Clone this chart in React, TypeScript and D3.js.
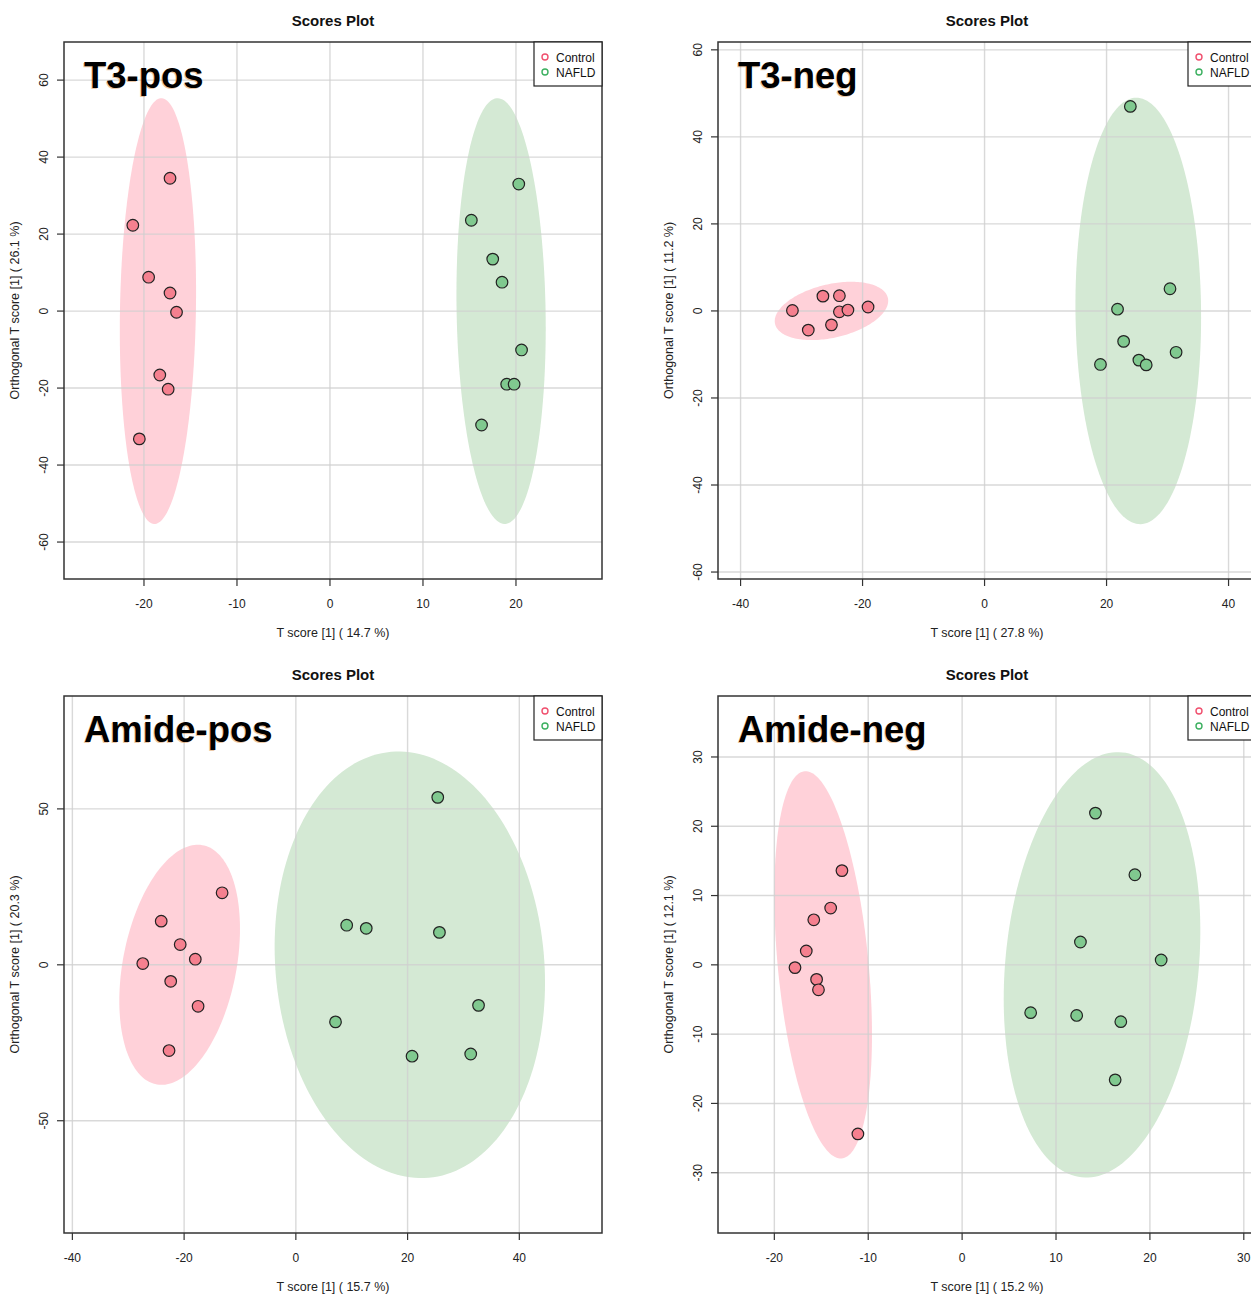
import * as d3 from "d3";

// ---- data ----
type Pt = [number, number];
type Ell = { cx: number; cy: number; sx: number; sy: number; rho: number };

const groups = ["Control", "NAFLD"];

const t3posControl: Pt[] = [
  [-17.2, 34.5], [-21.2, 22.3], [-19.5, 8.8], [-17.2, 4.7],
  [-16.5, -0.3], [-18.3, -16.6], [-17.4, -20.3], [-20.5, -33.2],
];
const t3posNafld: Pt[] = [
  [20.3, 33.0], [15.2, 23.6], [17.5, 13.5], [18.5, 7.5],
  [20.6, -10.1], [19.0, -19.0], [19.8, -19.0], [16.3, -29.6],
];
const t3posEllipses: Ell[] = [
  { cx: -18.5, cy: 0, sx: 4.1, sy: 55.3, rho: 0.09 },
  { cx: 18.4, cy: 0, sx: 4.8, sy: 55.3, rho: -0.08 },
];

const t3negControl: Pt[] = [
  [-31.5, 0.1], [-26.5, 3.4], [-23.8, 3.5], [-23.8, -0.2],
  [-22.4, 0.2], [-19.1, 0.9], [-28.9, -4.4], [-25.1, -3.2],
];
const t3negNafld: Pt[] = [
  [23.9, 47.0], [30.4, 5.1], [21.8, 0.4], [22.8, -7.0],
  [31.4, -9.5], [25.3, -11.3], [26.5, -12.4], [19.0, -12.3],
];
const t3negEllipses: Ell[] = [
  { cx: -25.1, cy: 0, sx: 9.3, sy: 6.7, rho: 0.35 },
  { cx: 25.2, cy: 0, sx: 10.3, sy: 49.0, rho: -0.03 },
];

const amideposControl: Pt[] = [
  [-13.2, 23.1], [-24.1, 14.0], [-20.7, 6.5], [-18.0, 1.8],
  [-27.4, 0.4], [-22.4, -5.3], [-17.5, -13.3], [-22.7, -27.5],
];
const amideposNafld: Pt[] = [
  [25.4, 53.7], [9.1, 12.7], [12.6, 11.7], [25.7, 10.4],
  [32.7, -13.0], [7.1, -18.3], [20.8, -29.3], [31.3, -28.6],
];
const amideposEllipses: Ell[] = [
  { cx: -20.8, cy: 0, sx: 10.8, sy: 38.5, rho: 0.3 },
  { cx: 20.4, cy: 0, sx: 24.2, sy: 68.4, rho: -0.084 },
];

const amidenegControl: Pt[] = [
  [-12.8, 13.6], [-14.0, 8.2], [-15.8, 6.5], [-16.6, 2.0],
  [-17.8, -0.4], [-15.5, -2.1], [-15.3, -3.6], [-11.1, -24.4],
];
const amidenegNafld: Pt[] = [
  [14.2, 21.9], [18.4, 13.0], [12.6, 3.3], [21.2, 0.7],
  [7.3, -6.9], [12.2, -7.3], [16.9, -8.2], [16.3, -16.6],
];
const amidenegEllipses: Ell[] = [
  { cx: -14.8, cy: 0, sx: 5.2, sy: 27.95, rho: -0.36 },
  { cx: 14.9, cy: 0, sx: 10.47, sy: 30.7, rho: 0.16 },
];

const t3posXTicks = [-20, -10, 0, 10, 20];
const t3posYTicks = [-60, -40, -20, 0, 20, 40, 60];
const t3negXTicks = [-40, -20, 0, 20, 40];
const t3negYTicks = [-60, -40, -20, 0, 20, 40, 60];
const amideposXTicks = [-40, -20, 0, 20, 40];
const amideposYTicks = [-50, 0, 50];
const amidenegXTicks = [-20, -10, 0, 10, 20, 30];
const amidenegYTicks = [-30, -20, -10, 0, 10, 20, 30];

const FONT = "Liberation Sans, Arial, sans-serif";
const W = 538;
const H = 537;
const fills = ["#f5808f", "#80c98f"];
const ellFills = ["#ffd1d9", "#d4e9d4"];
const legendCols = ["#f0506e", "#3cb060"];

type PanelProps = {
  left: number;
  top: number;
  label: string;
  xPct: string;
  yPct: string;
  xDomain: [number, number];
  yDomain: [number, number];
  xTicks: number[];
  yTicks: number[];
  control: Pt[];
  nafld: Pt[];
  ellipses: Ell[];
};

function Panel(p: PanelProps) {
  const x = d3.scaleLinear().domain(p.xDomain).range([p.left, p.left + W]);
  const y = d3.scaleLinear().domain(p.yDomain).range([p.top + H, p.top]);
  const bottom = p.top + H;
  const right = p.left + W;

  const ellPath = (e: Ell) => {
    const d = Math.acos(e.rho);
    const pts = d3.range(0, 360, 2).map((a) => {
      const t = (a * Math.PI) / 180;
      return [x(e.cx + e.sx * Math.cos(t)), y(e.cy + e.sy * Math.cos(t - d))] as [number, number];
    });
    return d3.line()(pts) + "Z";
  };

  const series = [p.control, p.nafld];

  return (
    <g>
      <text x={(p.left + right) / 2} y={p.top - 16} textAnchor="middle" fontSize={15} fontWeight="bold" fill="#111">
        Scores Plot
      </text>
      {p.ellipses.map((e, i) => (
        <path key={i} d={ellPath(e)} fill={ellFills[i]} />
      ))}
      {p.xTicks.map((t) => (
        <line key={"gx" + t} x1={x(t)} x2={x(t)} y1={p.top} y2={bottom} stroke="#cfcfcf" strokeOpacity={0.8} strokeWidth={1.4} />
      ))}
      {p.yTicks.map((t) => (
        <line key={"gy" + t} x1={p.left} x2={right} y1={y(t)} y2={y(t)} stroke="#cfcfcf" strokeOpacity={0.8} strokeWidth={1.4} />
      ))}
      {series.map((s, gi) =>
        s.map((d, i) => (
          <circle key={gi + "-" + i} cx={x(d[0])} cy={y(d[1])} r={5.8} fill={fills[gi]} stroke="#222" strokeWidth={1.2} />
        ))
      )}
      <rect x={p.left} y={p.top} width={W} height={H} fill="none" stroke="#333" strokeWidth={1.5} />
      {p.xTicks.map((t) => (
        <g key={"tx" + t}>
          <line x1={x(t)} x2={x(t)} y1={bottom} y2={bottom + 7} stroke="#333" strokeWidth={1.2} />
          <text x={x(t)} y={bottom + 28.5} textAnchor="middle" fontSize={12} fill="#222">
            {String(t)}
          </text>
        </g>
      ))}
      {p.yTicks.map((t) => (
        <g key={"ty" + t}>
          <line x1={p.left - 7} x2={p.left} y1={y(t)} y2={y(t)} stroke="#333" strokeWidth={1.2} />
          <text
            transform={`translate(${p.left - 16},${y(t)}) rotate(-90)`}
            textAnchor="middle"
            fontSize={12}
            fill="#222"
          >
            {String(t)}
          </text>
        </g>
      ))}
      <text x={(p.left + right) / 2} y={bottom + 57.5} textAnchor="middle" fontSize={12.5} fill="#222">
        {`T score [1] ( ${p.xPct} %)`}
      </text>
      <text
        transform={`translate(${p.left - 45},${(p.top + bottom) / 2}) rotate(-90)`}
        textAnchor="middle"
        fontSize={12.5}
        fill="#222"
      >
        {`Orthogonal T score [1] ( ${p.yPct} %)`}
      </text>
      <rect x={right - 68} y={p.top} width={68} height={44} fill="#fff" stroke="#222" strokeWidth={1.2} />
      {groups.map((g, i) => (
        <g key={g}>
          <circle cx={right - 57} cy={p.top + 15 + i * 15} r={3} fill="none" stroke={legendCols[i]} strokeWidth={1.4} />
          <text x={right - 46} y={p.top + 19.5 + i * 15} fontSize={12} fill="#111">
            {g}
          </text>
        </g>
      ))}
      <text x={p.left + 19} y={p.top + 47} fontSize={36.5} fontWeight="bold" fill="#c86400" opacity={0.35}>
        {p.label}
      </text>
      <text x={p.left + 20} y={p.top + 46} fontSize={36.5} fontWeight="bold" fill="#000">
        {p.label}
      </text>
    </g>
  );
}

export default function App() {
  return (
    <div style={{ position: "absolute", left: 0, top: 0 }}>
      <svg width={1251} height={1294} style={{ display: "block", fontFamily: FONT, background: "#fff" }}>
        <rect width={1251} height={1294} fill="#fff" />
        <Panel
          left={64}
          top={42}
          label="T3-pos"
          xPct="14.7"
          yPct="26.1"
          xDomain={[-28.6, 29.25]}
          yDomain={[-69.6, 69.9]}
          xTicks={t3posXTicks}
          yTicks={t3posYTicks}
          control={t3posControl}
          nafld={t3posNafld}
          ellipses={t3posEllipses}
        />
        <Panel
          left={718}
          top={42}
          label="T3-neg"
          xPct="27.8"
          yPct="11.2"
          xDomain={[-43.7, 44.5]}
          yDomain={[-61.6, 61.8]}
          xTicks={t3negXTicks}
          yTicks={t3negYTicks}
          control={t3negControl}
          nafld={t3negNafld}
          ellipses={t3negEllipses}
        />
        <Panel
          left={64}
          top={696}
          label="Amide-pos"
          xPct="15.7"
          yPct="20.3"
          xDomain={[-41.5, 54.8]}
          yDomain={[-86, 86.2]}
          xTicks={amideposXTicks}
          yTicks={amideposYTicks}
          control={amideposControl}
          nafld={amideposNafld}
          ellipses={amideposEllipses}
        />
        <Panel
          left={718}
          top={696}
          label="Amide-neg"
          xPct="15.2"
          yPct="12.1"
          xDomain={[-26.0, 31.3]}
          yDomain={[-38.7, 38.8]}
          xTicks={amidenegXTicks}
          yTicks={amidenegYTicks}
          control={amidenegControl}
          nafld={amidenegNafld}
          ellipses={amidenegEllipses}
        />
      </svg>
    </div>
  );
}
